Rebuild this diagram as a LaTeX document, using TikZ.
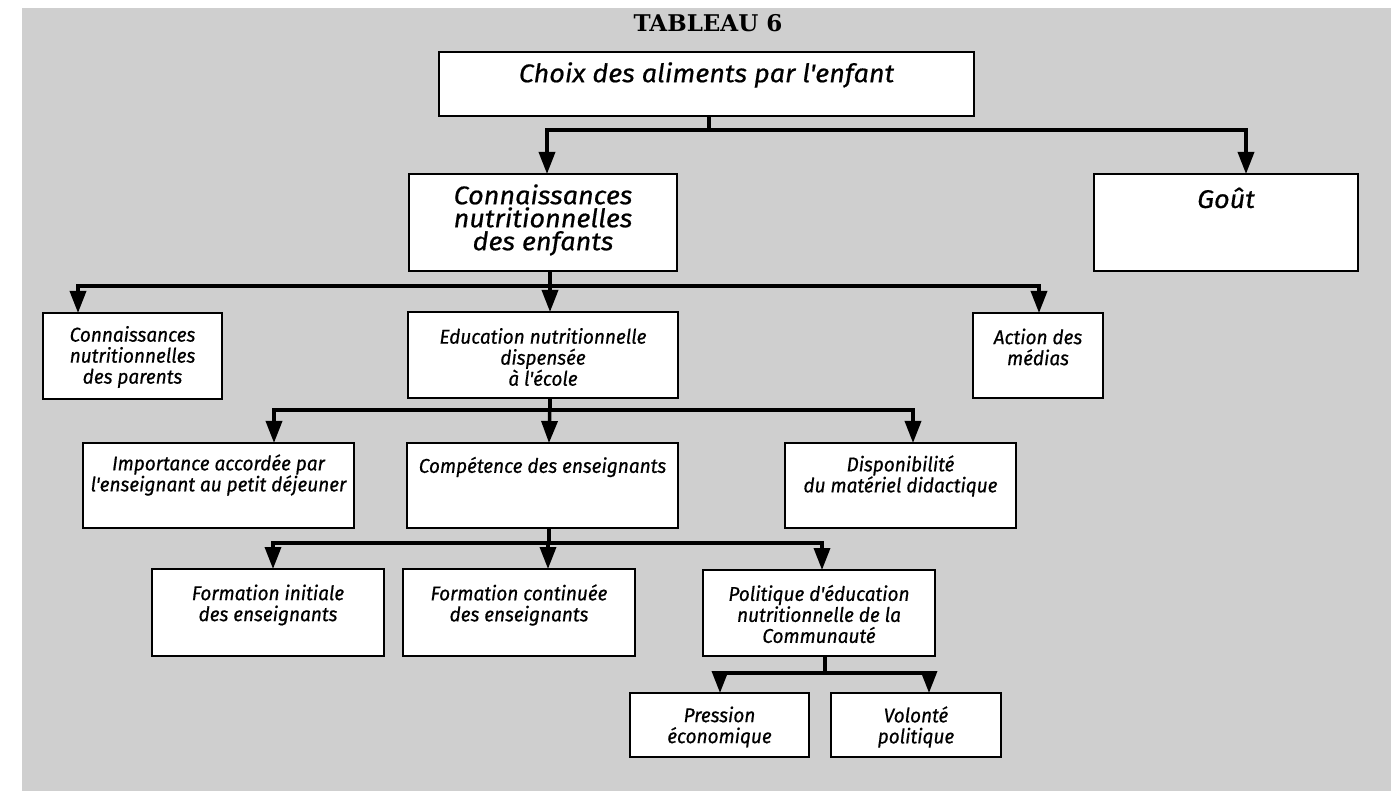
\documentclass[tikz,border=0pt]{standalone}
\usepackage{fontspec}
\usetikzlibrary{arrows.meta}
\newfontfamily\wideit{Fira Sans}[FakeStretch=1.06,FakeBold=0.6]
\newfontfamily\narrowit{Fira Sans}[FakeStretch=0.95,FakeBold=0.6]
\newfontfamily\titlefont{DejaVu Serif}
\definecolor{bg}{gray}{0.81}
\tikzset{
  box/.style={draw=black, line width=2.5pt, fill=white, inner sep=0pt, outer sep=0pt},
  bigtxt/.style={inner sep=0pt, align=center, font=\wideit\itshape\fontsize{25.5}{23}\selectfont},
  smalltxt/.style={inner sep=0pt, align=center, font=\narrowit\itshape\fontsize{20}{21}\selectfont},
  conn/.style={line width=3.5pt, -{Triangle[width=16pt,length=22pt]}}
}
\begin{document}
\begin{tikzpicture}[x=1pt,y=-1pt]
\useasboundingbox (0,0) rectangle (1395,791);
\fill[bg] (22,8) rectangle (1391,791);
\node[inner sep=0pt, font=\titlefont\bfseries\fontsize{23}{24}\selectfont] (title) at (708,23) {TABLEAU 6};
% boxes
\node[box, minimum width=535pt, minimum height=64pt] (choix) at (706.5,84) {};
\node[bigtxt] (choixT) at (706.5,75) {Choix des aliments par l'enfant};
\node[box, minimum width=268pt, minimum height=97pt] (connE) at (543,222.5) {};
\node[bigtxt] (connET) at (543,220) {Connaissances\\nutritionnelles\\des enfants};
\node[box, minimum width=264pt, minimum height=97pt] (gout) at (1226,222.5) {};
\node[bigtxt] (goutT) at (1226,198) {Goût};
\node[box, minimum width=179pt, minimum height=86pt] (parents) at (132.5,356) {};
\node[smalltxt] (parentsT) at (132.5,357) {Connaissances\\nutritionnelles\\des parents};
\node[box, minimum width=270pt, minimum height=86pt] (educ) at (543,355) {};
\node[smalltxt] (educT) at (543,357) {Education nutritionnelle\\dispensée\\à l'école};
\node[box, minimum width=130pt, minimum height=85pt] (action) at (1038,355.5) {};
\node[smalltxt] (actionT) at (1038,347) {Action des\\médias};
\node[box, minimum width=271pt, minimum height=85pt] (importance) at (218.5,485.5) {};
\node[smalltxt] (importanceT) at (218.5,475) {Importance accordée par\\l'enseignant au petit déjeuner};
\node[box, minimum width=271pt, minimum height=85pt] (competence) at (542.5,485.5) {};
\node[smalltxt] (competenceT) at (542.5,467) {Compétence des enseignants};
\node[box, minimum width=231pt, minimum height=85pt] (dispo) at (900.5,485.5) {};
\node[smalltxt] (dispoT) at (900.5,476) {Disponibilité\\du matériel didactique};
\node[box, minimum width=232pt, minimum height=87pt] (finit) at (268,612.5) {};
\node[smalltxt] (finitT) at (268,605) {Formation initiale\\des enseignants};
\node[box, minimum width=232pt, minimum height=87pt] (fcont) at (519,612.5) {};
\node[smalltxt] (fcontT) at (519,605) {Formation continuée\\des enseignants};
\node[box, minimum width=232pt, minimum height=86pt] (politique) at (819,613) {};
\node[smalltxt] (politiqueT) at (819,614) {Politique d'éducation\\nutritionnelle de la\\Communauté};
\node[box, minimum width=179pt, minimum height=64pt] (pression) at (719.5,725) {};
\node[smalltxt] (pressionT) at (719.5,727) {Pression\\économique};
\node[box, minimum width=170pt, minimum height=64pt] (volonte) at (916,725) {};
\node[smalltxt] (volonteT) at (916,727) {Volonté\\politique};
% connectors
\draw[conn] ([xshift=2.5pt]choix.south) -- ++(0,14) -| ([xshift=4pt]connE.north);
\draw[conn] ([xshift=2.5pt]choix.south) -- ++(0,14) -| ([xshift=20pt]gout.north);
\draw[conn] ([xshift=7pt]connE.south) -- ++(0,15) -| ([xshift=-54.5pt]parents.north);
\draw[conn] ([xshift=7pt]connE.south) -- ([xshift=7pt]educ.north);
\draw[conn] ([xshift=7pt]connE.south) -- ++(0,15) -| ([xshift=1pt]action.north);
\draw[conn] ([xshift=7pt]educ.south) -- ++(0,12) -| ([xshift=55.5pt]importance.north);
\draw[conn] ([xshift=7pt]educ.south) -- ([xshift=6.5pt]competence.north);
\draw[conn] ([xshift=7pt]educ.south) -- ++(0,12) -| ([xshift=12.5pt]dispo.north);
\draw[conn] ([xshift=6.5pt]competence.south) -- ++(0,15) -| ([xshift=5pt]finit.north);
\draw[conn] ([xshift=6.5pt]competence.south) -- ++(0,15) -| ([xshift=29pt]fcont.north);
\draw[conn] ([xshift=6.5pt]competence.south) -- ++(0,15) -| ([xshift=3pt]politique.north);
\draw[conn] ([xshift=6pt]politique.south) -- ++(0,17) -| ([xshift=0.5pt]pression.north);
\draw[conn] ([xshift=6pt]politique.south) -- ++(0,17) -| ([xshift=13pt]volonte.north);
\end{tikzpicture}
\end{document}
